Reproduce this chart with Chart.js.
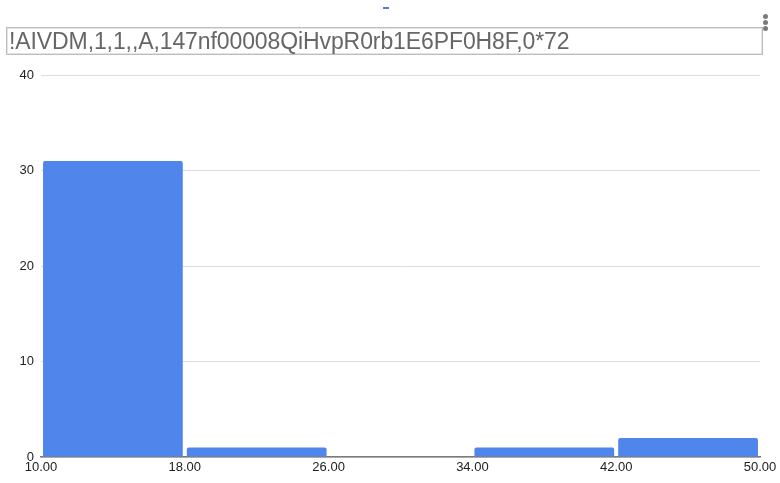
<!DOCTYPE html>
<html>
<head>
<meta charset="utf-8">
<script src="https://cdn.jsdelivr.net/npm/chart.js@4/dist/chart.umd.min.js"></script>
<style>
  html, body { margin: 0; padding: 0; background: #fff; }
  body { width: 780px; height: 483px; position: relative; overflow: hidden; font-family: Arial, "Liberation Sans", sans-serif; }
  #chartWrap { position: absolute; left: 0; top: 0; width: 780px; height: 483px; }
  #titleBox {
    position: absolute; left: 6px; top: 27px; width: 753px; height: 26px;
    border: 1px solid #bdbdbd; box-shadow: inset 0 0 0 1px #e4e4e4;
    color: #666; font-size: 23px; line-height: 26px; padding-left: 2px;
    white-space: nowrap; box-sizing: content-box; letter-spacing: -0.1px;
  }
  #tabMark { position: absolute; left: 383px; top: 7px; width: 6px; height: 2px; background: #4a7fe0; }
  .dot { position: absolute; left: 763px; width: 5px; height: 5px; border-radius: 50%; background: #7a7a7a; }
</style>
</head>
<body>
<div id="chartWrap"><canvas id="chart" width="780" height="483"></canvas></div>
<div id="tabMark"></div>
<div class="dot" style="top:14px"></div>
<div class="dot" style="top:20px"></div>
<div class="dot" style="top:26px"></div>
<div id="titleBox">!AIVDM,1,1,,A,147nf00008QiHvpR0rb1E6PF0H8F,0*72</div>
<script>
// Histogram bins (start of each bin) and the count in each bin
const binStarts = [10, 18, 26, 34, 42];
const binWidth = 8;
const counts = [31, 1, 0, 1, 2];
// Axis tick settings
const xTickMin = 10, xTickMax = 50, xTickStep = 8;
const yTickMin = 0, yTickMax = 40, yTickStep = 10;

const points = binStarts.map((s, i) => ({ x: s + binWidth / 2, y: counts[i] }));

const tickFont = { family: 'Arial, "Liberation Sans", sans-serif', size: 13 };

new Chart(document.getElementById('chart'), {
  type: 'bar',
  data: {
    datasets: [{
      data: points,
      backgroundColor: '#5086ec',
      borderWidth: 0,
      borderRadius: 2,
      categoryPercentage: 1,
      barPercentage: 0.972
    }]
  },
  options: {
    responsive: false,
    animation: false,
    events: [],
    layout: { padding: { left: 0, right: 20, top: 75, bottom: 0 } },
    plugins: { legend: { display: false }, tooltip: { enabled: false } },
    scales: {
      x: {
        type: 'linear',
        offset: false,
        min: xTickMin,
        max: xTickMax,
        grid: { display: false, drawTicks: false, offset: false },
        border: { display: true, color: '#7a7a7a', width: 1.5 },
        ticks: {
          stepSize: xTickStep,
          color: '#222',
          font: tickFont,
          padding: 3,
          maxRotation: 0,
          autoSkip: false,
          callback: v => Number(v).toFixed(2)
        },
        afterFit: s => { s.height = 26; }
      },
      y: {
        min: yTickMin,
        max: yTickMax,
        grid: { color: '#dcdcdc', drawTicks: false, lineWidth: 1 },
        border: { display: false },
        ticks: { stepSize: yTickStep, color: '#222', font: tickFont, padding: 7 },
        afterFit: s => { s.width = 41; }
      }
    }
  }
});
</script>
</body>
</html>
